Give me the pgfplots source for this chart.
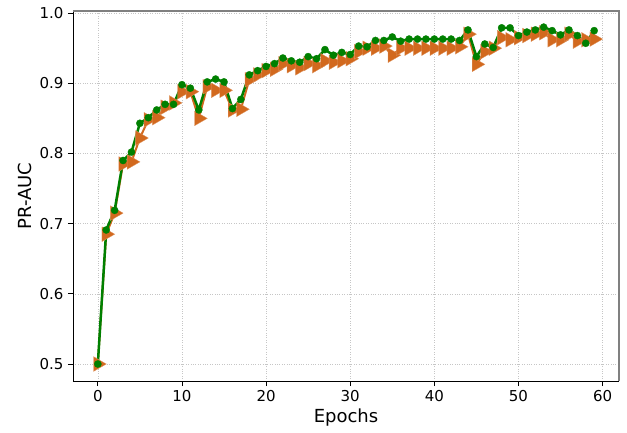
\documentclass[border=0pt]{standalone}
\usepackage{fontspec}
\setmainfont{DejaVu Sans}
\usepackage{pgfplots}
\usepackage{pgfplotstable}
\pgfplotsset{compat=1.18}
\definecolor{chocolate}{HTML}{D2691E}
\definecolor{mplgreen}{HTML}{008000}

\pgfplotstableread{
e v
0 0.500
1 0.685
2 0.715
3 0.785
4 0.788
5 0.822
6 0.848
7 0.851
8 0.866
9 0.872
10 0.888
11 0.888
12 0.850
13 0.895
14 0.890
15 0.890
16 0.862
17 0.863
18 0.905
19 0.912
20 0.918
21 0.920
22 0.928
23 0.925
24 0.922
25 0.928
26 0.925
27 0.932
28 0.930
29 0.932
30 0.935
31 0.945
32 0.950
33 0.950
34 0.953
35 0.940
36 0.950
37 0.950
38 0.950
39 0.950
40 0.950
41 0.950
42 0.950
43 0.952
44 0.970
45 0.927
46 0.945
47 0.950
48 0.965
49 0.962
50 0.965
51 0.968
52 0.970
53 0.972
54 0.962
55 0.962
56 0.970
57 0.960
58 0.962
59 0.963
}\orangedata

\pgfplotstableread{
e v
0 0.500
1 0.691
2 0.719
3 0.790
4 0.802
5 0.843
6 0.851
7 0.862
8 0.870
9 0.870
10 0.898
11 0.893
12 0.862
13 0.902
14 0.906
15 0.902
16 0.864
17 0.877
18 0.912
19 0.918
20 0.924
21 0.928
22 0.936
23 0.932
24 0.930
25 0.938
26 0.935
27 0.948
28 0.940
29 0.944
30 0.941
31 0.953
32 0.952
33 0.961
34 0.961
35 0.966
36 0.960
37 0.963
38 0.963
39 0.963
40 0.963
41 0.963
42 0.963
43 0.961
44 0.976
45 0.938
46 0.956
47 0.951
48 0.979
49 0.979
50 0.968
51 0.973
52 0.976
53 0.980
54 0.975
55 0.969
56 0.976
57 0.968
58 0.957
59 0.975
}\greendata

\begin{document}
\begin{tikzpicture}
\begin{axis}[
  scale only axis,
  width=546pt, height=370pt,
  xmin=-2.95, xmax=61.95,
  ymin=0.4758, ymax=1.003,
  xtick={0,10,20,30,40,50,60},
  ytick={0.5,0.6,0.7,0.8,0.9,1.0},
  yticklabel style={/pgf/number format/fixed, /pgf/number format/precision=1, /pgf/number format/fixed zerofill},
  /pgf/number format/assume math mode=true,
  tick label style={font=\fontsize{15}{18}\selectfont},
  label style={font=\fontsize{18}{22}\selectfont},
  xlabel={Epochs},
  ylabel={PR-AUC},
  xlabel style={at={(axis description cs:0.5,-0.1)}, anchor=center},
  ylabel style={at={(axis description cs:-0.0888,0.5)}, anchor=center},
  tick pos=left,
  tick align=outside,
  major tick length=5pt,
  tick style={black, line width=0.8pt},
  xticklabel style={yshift=-1pt},
  yticklabel style={xshift=-1pt},
  grid=major,
  grid style={dotted, gray!45, line width=0.6pt},
  axis x line*=bottom,
  axis y line*=left,
  x axis line style={-, black, line width=0.8pt},
  y axis line style={-, black, line width=0.8pt},
  clip=false,
]
\coordinate (sw) at (rel axis cs:0,0);
\draw[gray, line width=1.5pt] (rel axis cs:0,1) -- (rel axis cs:1,1) -- (rel axis cs:1,0);
\addplot[chocolate, line width=2pt, mark=triangle*, mark size=8.5pt,
  mark options={rotate=-90, fill=chocolate, draw=chocolate!70!white, line width=0.3pt}]
  table[x=e, y=v] {\orangedata};
\addplot[mplgreen, line width=2.5pt, mark=*, mark size=3.6pt,
  mark options={fill=mplgreen, draw=mplgreen, line width=0.3pt}]
  table[x=e, y=v] {\greendata};
\end{axis}
\pgfresetboundingbox
\path[use as bounding box] (sw) ++(-73pt,-51pt) rectangle ++(627pt,432pt);
\end{tikzpicture}
\end{document}
